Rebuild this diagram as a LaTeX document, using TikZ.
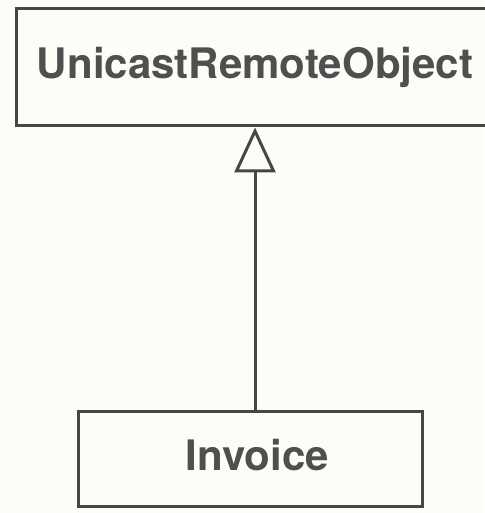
\documentclass[tikz,border=0pt]{standalone}
\usepackage{fontspec}
\setmainfont{TeX Gyre Heros}
\usetikzlibrary{arrows.meta}
\definecolor{bgc}{HTML}{FDFDF8}
\definecolor{linec}{HTML}{464646}
\definecolor{textc}{HTML}{4F4F4F}
\tikzset{
  classbox/.style={draw=linec, line width=3pt, fill=bgc, text=textc,
    font=\fontsize{42}{50}\selectfont\bfseries, inner sep=0pt},
  inherit/.style={draw=linec, line width=3pt,
    -{Triangle[open, length=45pt, width=41pt, line width=3pt]}}
}
\begin{document}
\begin{tikzpicture}[x=1pt,y=1pt]
  \fill[bgc] (0,0) rectangle (484,513);
  \useasboundingbox (0,0) rectangle (484,513);
  \node[classbox, minimum width=478pt, minimum height=117pt] (uro) at (255,445.5) {UnicastRemoteObject};
  \node[classbox, minimum width=344pt, minimum height=95pt, text depth=9pt] (inv) at (250,53.5) {\hspace*{15pt}Invoice};
  \draw[inherit] (inv.north -| uro.south) -- (uro.south);
\end{tikzpicture}
\end{document}
